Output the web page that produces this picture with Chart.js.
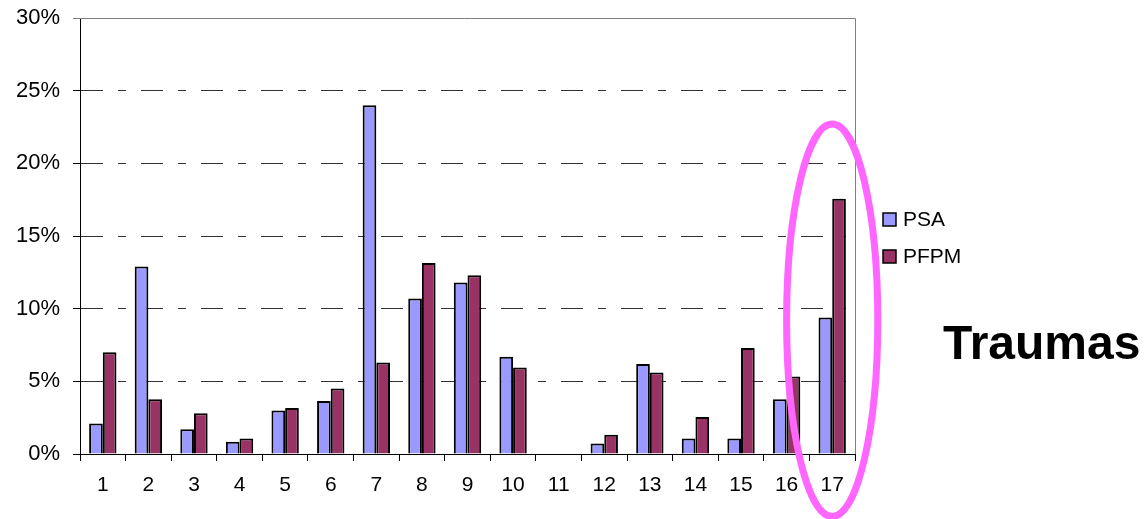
<!DOCTYPE html>
<html>
<head>
<meta charset="utf-8">
<script src="https://cdn.jsdelivr.net/npm/chart.js@4.4.0/dist/chart.umd.min.js"></script>
<style>
  html, body { margin: 0; padding: 0; background: #fff; }
  #wrap { width: 1147px; height: 519px; }
</style>
</head>
<body>
<div id="wrap"><canvas id="c"></canvas></div>
<script>
//########################## data
const categories = ["1","2","3","4","5","6","7","8","9","10","11","12","13","14","15","16","17"]
const psa  = [2.1, 12.9, 1.7, 0.85, 3.0, 3.65, 24.0, 10.7, 11.8, 6.7, 0, 0.73, 6.2, 1.07, 1.07, 3.76, 9.4]
const pfpm = [7.0, 3.76, 2.8, 1.07, 3.17, 4.5, 6.3, 13.15, 12.3, 5.96, 0, 1.33, 5.6, 2.55, 7.3, 5.34, 17.57]
const yTicks = [0, 5, 10, 15, 20, 25, 30]
const seriesNames = ["PSA", "PFPM"]
const seriesColors = ["#9999FF", "#993366"]
const sideTitle = "Traumas"
const highlightIndex = 16

const FONT = "'Liberation Sans', Arial, sans-serif"

//########################## extras: plot box, legend, title, ellipse
const extras = {
  id: "extras",
  beforeDatasetsDraw(chart) {
    const { ctx, chartArea: a } = chart
    ctx.save()
    ctx.strokeStyle = "#808080"
    ctx.lineWidth = 1
    ctx.beginPath()
    ctx.moveTo(a.left - 7, a.top + 0.5)
    ctx.lineTo(a.right + 0.5, a.top + 0.5)
    ctx.lineTo(a.right + 0.5, a.bottom)
    ctx.stroke()
    ctx.restore()
  },
  afterDraw(chart) {
    const { ctx, scales } = chart
    ctx.save()
    // legend
    let ly = 219
    chart.data.datasets.forEach(ds => {
      ctx.fillStyle = ds.backgroundColor
      ctx.fillRect(883, ly - 6, 13, 13)
      ctx.strokeStyle = "#000"
      ctx.lineWidth = 1.5
      ctx.strokeRect(883, ly - 6, 13, 13)
      ctx.fillStyle = "#000"
      ctx.font = "21px " + FONT
      ctx.textBaseline = "middle"
      ctx.textAlign = "left"
      ctx.fillText(ds.label, 903, ly + 1)
      ly += 37
    })
    // side title
    ctx.font = "bold 48px " + FONT
    ctx.textBaseline = "middle"
    ctx.fillText(sideTitle, 943, 346)
    // highlight ring round the last group
    const x = scales.x, y = scales.y
    const cw = x.getPixelForValue(1) - x.getPixelForValue(0)
    const unit = y.getPixelForValue(0) - y.getPixelForValue(1)
    ctx.strokeStyle = "#FF66FF"
    ctx.lineWidth = 7
    ctx.beginPath()
    ctx.ellipse(x.getPixelForValue(highlightIndex), y.getPixelForValue(9.2), cw * 1.0, unit * 13.5, 0, 0, Math.PI * 2)
    ctx.stroke()
    ctx.restore()
  }
}

const ctx = document.getElementById("c")
new Chart(ctx, {
  type: "bar",
  data: {
    labels: categories,
    datasets: [
      { label: seriesNames[0], data: psa, backgroundColor: seriesColors[0] },
      { label: seriesNames[1], data: pfpm, backgroundColor: seriesColors[1] }
    ]
  },
  options: {
    responsive: true,
    maintainAspectRatio: false,
    animation: false,
    devicePixelRatio: 1,
    layout: { padding: { top: 18, right: 292, left: 0, bottom: 0 } },
    datasets: {
      bar: {
        borderColor: "#000",
        borderWidth: 2,
        categoryPercentage: 0.6,
        barPercentage: 1.0
      }
    },
    plugins: {
      legend: { display: false },
      tooltip: { enabled: false }
    },
    scales: {
      x: {
        grid: { display: true, drawOnChartArea: false, offset: true, tickLength: 7, color: "#000", tickColor: "#000" },
        border: { display: true, color: "#000", width: 1 },
        ticks: { color: "#000", font: { family: FONT, size: 21 }, padding: 12, maxRotation: 0 },
        afterFit(scale) { scale.height = 65 }
      },
      y: {
        min: 0,
        max: 30,
        afterBuildTicks(scale) { scale.ticks = yTicks.map(v => ({ value: v })) },
        grid: {
          tickLength: 7,
          tickColor: "#000",
          color: c => (c.tick && (c.tick.value === 0 || c.tick.value === 30)) ? "rgba(0,0,0,0)" : "#333"
        },
        border: { display: true, color: "#000", width: 1, dash: [22, 15, 8, 15] },
        ticks: {
          color: "#000",
          font: { family: FONT, size: 22 },
          padding: 13,
          callback: v => v + "%"
        },
        afterFit(scale) {
          scale.width = 80
          scale.paddingTop = 0
          scale.paddingBottom = 0
        }
      }
    }
  },
  plugins: [extras]
})
</script>
</body>
</html>
